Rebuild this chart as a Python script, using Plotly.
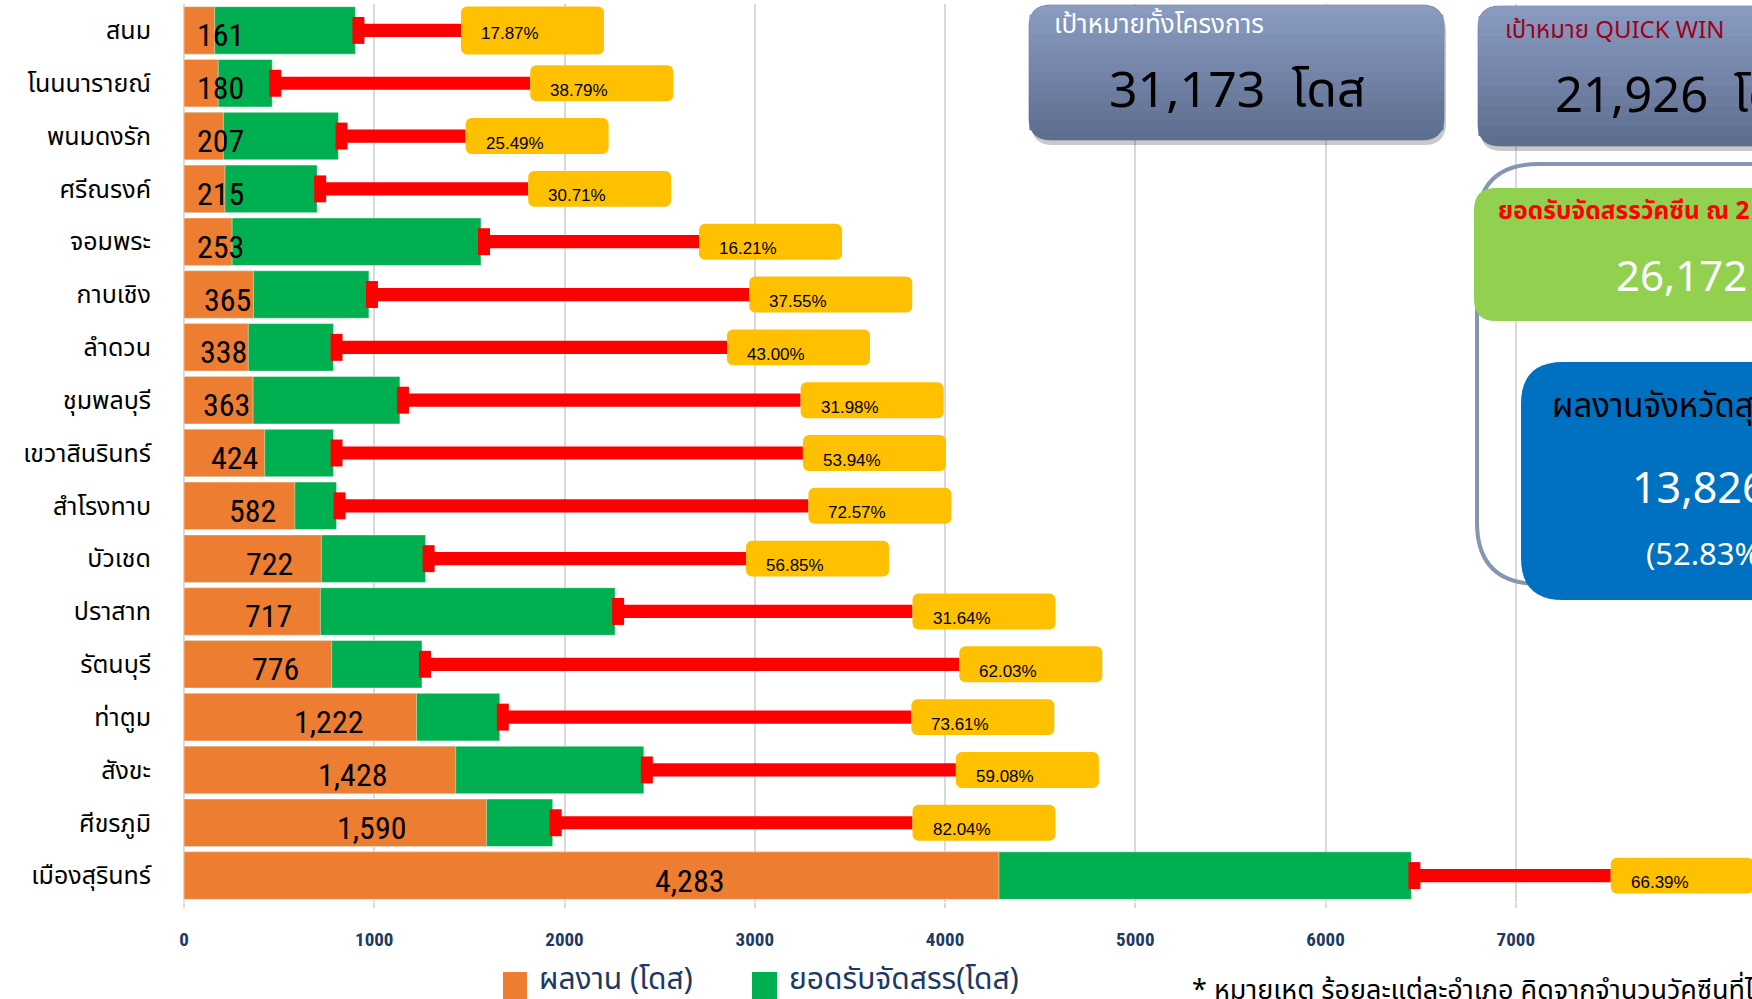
import plotly.graph_objects as go

# ---------------- data ----------------
districts = ["สนม", "โนนนารายณ์", "พนมดงรัก", "ศรีณรงค์", "จอมพระ", "กาบเชิง", "ลำดวน",
             "ชุมพลบุรี", "เขวาสินรินทร์", "สำโรงทาบ", "บัวเชด", "ปราสาท", "รัตนบุรี",
             "ท่าตูม", "สังขะ", "ศีขรภูมิ", "เมืองสุรินทร์"]
performance = [161, 180, 207, 215, 253, 365, 338, 363, 424, 582, 722, 717, 776,
               1222, 1428, 1590, 4283]
allocation = [901, 464, 812, 700, 1561, 972, 786, 1135, 786, 802, 1270, 2266, 1251,
              1660, 2417, 1938, 6451]
pct_labels = ["17.87%", "38.79%", "25.49%", "30.71%", "16.21%", "37.55%", "43.00%",
              "31.98%", "53.94%", "72.57%", "56.85%", "31.64%", "62.03%", "73.61%",
              "59.08%", "82.04%", "66.39%"]
# x value where each percentage call-out sits (end of the red leader)
callout_at = [1456, 1820, 1480, 1809, 2707, 2971, 2854, 3241, 3253, 3282, 2954,
              3829, 4075, 3823, 4057, 3829, 7499]
tick_values = [0, 1000, 2000, 3000, 4000, 5000, 6000, 7000]
target_total = 31173
quick_win_target = 21926

# ---------------- geometry helpers ----------------
W, H = 1752, 999
PL, PR, PT, PB = 184, 1752, 4, 902
PX_PER_1000 = 190.26
XMAX = (PR - PL) / PX_PER_1000 * 1000


def xp(px):
    return (px - PL) / (PR - PL)


def yp(py):
    return (PB - py) / (PB - PT)


def px2data(px):
    return px / PX_PER_1000 * 1000


def rrect(x0, y0, x1, y1, r, top_only=False):
    """rounded rectangle path in paper coordinates from pixel coords"""
    rx = r / (PR - PL)
    ry = r / (PB - PT)
    X0, X1 = xp(x0), xp(x1)
    YT, YB = yp(y0), yp(y1)
    if top_only:
        return (f"M{X0+rx},{YT} L{X1-rx},{YT} Q{X1},{YT} {X1},{YT-ry} "
                f"L{X1},{YB} L{X0},{YB} L{X0},{YT-ry} Q{X0},{YT} {X0+rx},{YT} Z")
    return (f"M{X0+rx},{YT} L{X1-rx},{YT} Q{X1},{YT} {X1},{YT-ry} "
            f"L{X1},{YB+ry} Q{X1},{YB} {X1-rx},{YB} L{X0+rx},{YB} Q{X0},{YB} {X0},{YB+ry} "
            f"L{X0},{YT-ry} Q{X0},{YT} {X0+rx},{YT} Z")


THAI = "Noto Sans Thai, Tahoma, Leelawadee UI, Noto Sans, sans-serif"
LATIN_THAI = "Noto Sans, Noto Sans Thai, sans-serif"
NARROW = "Liberation Sans Narrow, Arial Narrow, Roboto Condensed, Liberation Sans, sans-serif"
NAVY = "#203864"

fig = go.Figure()

# allocation (green) and performance (orange) overlaid
fig.add_trace(go.Bar(y=districts, x=allocation, orientation="h", width=0.9,
                     marker=dict(color="#00B050", line=dict(color="rgba(255,255,255,0.45)", width=1)),
                     name="ยอดรับจัดสรร(โดส)", hoverinfo="x+y"))
fig.add_trace(go.Bar(y=districts, x=performance, orientation="h", width=0.9,
                     marker=dict(color="#ED7D31", line=dict(color="rgba(255,255,255,0.45)", width=1)),
                     name="ผลงาน (โดส)", hoverinfo="x+y"))

# red leader line + cap
cap_w = px2data(12)
lead_len = [c - a for c, a in zip(callout_at, allocation)]
fig.add_trace(go.Bar(y=districts, x=lead_len, base=allocation, orientation="h", width=0.25,
                     marker=dict(color="#FF0000", line=dict(width=0)), hoverinfo="skip"))
fig.add_trace(go.Bar(y=districts, x=[cap_w] * len(districts),
                     base=[a - px2data(3) for a in allocation], orientation="h", width=0.51,
                     marker=dict(color="#FF0000", line=dict(width=0)), hoverinfo="skip"))

# yellow call-out boxes
box_len = [px2data(163) if d == "กาบเชิง" else px2data(143) for d in districts]
box_h = [0.91 if i == 0 else 0.68 for i in range(len(districts))]
fig.add_trace(go.Bar(y=districts, x=box_len, base=callout_at, orientation="h", width=box_h,
                     marker=dict(color="#FFC000", line=dict(width=0), cornerradius=6),
                     hoverinfo="skip"))

annotations = []
# percentage texts
for i, (d, c, t) in enumerate(zip(districts, callout_at, pct_labels)):
    annotations.append(dict(x=c + px2data(18), y=d, xref="x", yref="y", text=t,
                            showarrow=False, xanchor="left", yanchor="middle",
                            yshift=-3 if i == 0 else -7,
                            font=dict(family="Liberation Sans, Arial, sans-serif", size=17, color="#000000")))
# value labels inside orange bars
for d, v in zip(districts, performance):
    annotations.append(dict(x=max(190, 0.62 * v), y=d, xref="x", yref="y", text=f"{v:,}",
                            showarrow=False, xanchor="center", yanchor="middle", yshift=-5,
                            font=dict(family=NARROW, size=32, color="#000000")))

shapes = []


def gradient_box(x0, y0, x1, y1, r, top_col, bot_col, n=14):
    shapes.append(dict(type="path", xref="paper", yref="paper",
                       path=rrect(x0 + 2, y0 + 4, x1 + 2, y1 + 5, r),
                       fillcolor="rgba(60,60,60,0.28)", line=dict(width=0), layer="above"))
    shapes.append(dict(type="path", xref="paper", yref="paper", path=rrect(x0, y0, x1, y1, r),
                       fillcolor=bot_col, line=dict(color="rgba(90,105,135,0.6)", width=1), layer="above"))

    def hx(c):
        return [int(c[i:i + 2], 16) for i in (1, 3, 5)]
    a, b = hx(top_col), hx(bot_col)
    h = y1 - y0
    for k in range(1, n):
        f = k / n
        col = [round(b[j] + (a[j] - b[j]) * f) for j in range(3)]
        yb = y1 - h * f
        shapes.append(dict(type="path", xref="paper", yref="paper",
                           path=rrect(x0 + 0.5, y0 + 0.5, x1 - 0.5, yb, r - 0.5, top_only=True),
                           fillcolor=f"rgb({col[0]},{col[1]},{col[2]})", line=dict(width=0), layer="above"))


gradient_box(1029, 5, 1444, 140, 22, "#8C9EC4", "#5E6E90")
gradient_box(1478, 6, 1830, 146, 22, "#8C9EC4", "#5E6E90")

# outline group box
shapes.append(dict(type="path", xref="paper", yref="paper", path=rrect(1477, 164, 1840, 584, 62),
                   fillcolor="rgba(255,255,255,0)", line=dict(color="#8497B0", width=4), layer="above"))
# green box
shapes.append(dict(type="path", xref="paper", yref="paper", path=rrect(1474, 188, 1840, 321, 22),
                   fillcolor="#92D050", line=dict(width=0), layer="above"))
# blue box
shapes.append(dict(type="path", xref="paper", yref="paper", path=rrect(1521, 362, 1840, 600, 42),
                   fillcolor="#0070C0", line=dict(width=0), layer="above"))

# legend squares
shapes.append(dict(type="rect", xref="paper", yref="paper", x0=xp(503), x1=xp(527), y0=yp(1010), y1=yp(972),
                   fillcolor="#ED7D31", line=dict(width=0), layer="above"))
shapes.append(dict(type="rect", xref="paper", yref="paper", x0=xp(752), x1=xp(777), y0=yp(1010), y1=yp(972),
                   fillcolor="#00B050", line=dict(width=0), layer="above"))


def txt(x, y, s, size, color, anchor="left", family=THAI, bold=False):
    if bold:
        s = f"<b>{s}</b>"
    annotations.append(dict(x=xp(x), y=yp(y), xref="paper", yref="paper", text=s, showarrow=False,
                            xanchor=anchor, yanchor="middle", font=dict(family=family, size=size, color=color)))


alloc_total = sum(allocation)
perf_total = sum(performance)

txt(1052, 25, "เป้าหมายทั้งโครงการ", 26, "#FFFFFF")
txt(1237, 92, f"{target_total:,}  โดส", 50, "#000000", anchor="center")
txt(1503, 29, "เป้าหมาย QUICK WIN", 24, "#A0001A", family=LATIN_THAI)
txt(1553, 97, f"{quick_win_target:,}  โดส", 49, "#000000")
txt(1496, 211, "ยอดรับจัดสรรวัคซีน ณ 2", 24.5, "#FF0000", bold=True)
txt(1614, 278, f"{alloc_total:,} โดส", 42, "#FFFFFF")
txt(1550, 407, "ผลงานจังหวัดสุรินทร์", 33, "#000000")
txt(1630, 490, f"{perf_total:,} โดส", 43, "#FFFFFF")
txt(1644, 555, f"({perf_total / alloc_total * 100:.2f}%)", 31, "#FFFFFF")

# legend texts
txt(537, 980, "ผลงาน (โดส)", 30, NAVY)
txt(787, 980, "ยอดรับจัดสรร(โดส)", 30, NAVY)
# footnote
txt(1190, 990, "* หมายเหตุ ร้อยละแต่ละอำเภอ คิดจากจำนวนวัคซีนที่ได้รับจัดสรร", 27, "#000000")

fig.update_layout(
    width=W, height=H,
    margin=dict(l=PL, r=W - PR, t=PT, b=H - PB, pad=0, autoexpand=False),
    barmode="overlay",
    showlegend=False,
    plot_bgcolor="#FFFFFF", paper_bgcolor="#FFFFFF",
    xaxis=dict(range=[0, XMAX], tickvals=tick_values, ticktext=[str(t) for t in tick_values],
               showgrid=True, gridcolor="#D9D9D9", gridwidth=1.5,
               zeroline=True, zerolinecolor="#D9D9D9", zerolinewidth=1.5,
               ticks="outside", ticklen=5, tickcolor="#D9D9D9", tickwidth=1.5,
               ticklabelstandoff=15, automargin=False,
               tickfont=dict(family=NARROW, size=19, color=NAVY, weight="bold"),
               showline=False, fixedrange=True),
    yaxis=dict(autorange="reversed", showgrid=False, ticks="", ticklabelstandoff=32, automargin=False,
               tickfont=dict(family=THAI, size=25, color="#000000"), fixedrange=True),
    shapes=shapes,
    annotations=annotations,
    bargap=0.1,
)

fig.write_html("out.html", config={"displayModeBar": False},
               post_script="document.body.style.margin='0';document.body.style.overflow='hidden';")
